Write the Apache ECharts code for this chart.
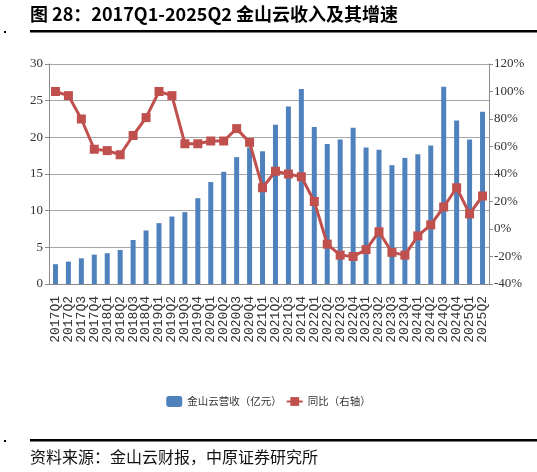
<!DOCTYPE html>
<html>
<head>
<meta charset="utf-8">
<title>金山云收入及其增速</title>
<script src="https://cdn.jsdelivr.net/npm/echarts@6/dist/echarts.min.js"></script>
<style>
  html, body { margin: 0; padding: 0; background: #fff; }
  #container { width: 537px; height: 472px; }
</style>
</head>
<body>
<div id="container"></div>
<script>
// 季度
const quarters = [
  '2017Q1', '2017Q2', '2017Q3', '2017Q4',
  '2018Q1', '2018Q2', '2018Q3', '2018Q4',
  '2019Q1', '2019Q2', '2019Q3', '2019Q4',
  '2020Q1', '2020Q2', '2020Q3', '2020Q4',
  '2021Q1', '2021Q2', '2021Q3', '2021Q4',
  '2022Q1', '2022Q2', '2022Q3', '2022Q4',
  '2023Q1', '2023Q2', '2023Q3', '2023Q4',
  '2024Q1', '2024Q2', '2024Q3', '2024Q4',
  '2025Q1', '2025Q2'
]
// 金山云营收（亿元）
const revenue = [
  2.7, 3.05, 3.5, 4.0,
  4.2, 4.65, 6.0, 7.3,
  8.3, 9.2, 9.8, 11.7,
  13.9, 15.3, 17.3, 18.6,
  18.1, 21.7, 24.2, 26.6,
  21.4, 19.1, 19.7, 21.3,
  18.6, 18.3, 16.2, 17.2,
  17.7, 18.9, 26.9, 22.3,
  19.7, 23.5
]
// 同比（%）
const yoy = [
  100, 97, 80, 58,
  57, 54, 68, 81,
  100, 97, 62, 62,
  64, 64, 73, 63,
  30, 42, 40, 38,
  20, -11, -19, -20,
  -15, -2, -17, -19,
  -5, 3, 16, 30,
  11, 24
]
// 刻度
const leftTicks = { min: 0, max: 30, interval: 5 }
const rightTicks = { min: -40, max: 120, interval: 20 }

const titleText = '图 28：2017Q1-2025Q2 金山云收入及其增速'
const sourceText = '资料来源：金山云财报，中原证券研究所'

const tickFont = { fontFamily: 'Liberation Serif', fontSize: 13, color: '#333' }

let myChart = echarts.init(document.getElementById('container'))

let option = {
  animation: false,
  backgroundColor: '#fff',
  graphic: [
    {
      type: 'text',
      left: 30,
      top: 5,
      style: {
        text: titleText,
        fontFamily: 'Noto Sans CJK SC',
        fontSize: 18,
        fontWeight: 'bold',
        fill: '#000'
      }
    },
    { type: 'rect', shape: { x: 30, y: 30, width: 507, height: 2.5 }, style: { fill: '#000' } },
    { type: 'rect', shape: { x: 4, y: 31, width: 2, height: 2 }, style: { fill: '#000' } },
    { type: 'rect', shape: { x: 30, y: 439, width: 507, height: 2.5 }, style: { fill: '#000' } },
    { type: 'rect', shape: { x: 4, y: 440, width: 2, height: 2 }, style: { fill: '#000' } },
    {
      type: 'text',
      left: 30,
      top: 449,
      style: {
        text: sourceText,
        fontFamily: 'Noto Sans CJK SC',
        fontSize: 16,
        fill: '#111'
      }
    }
  ],
  legend: {
    data: ['金山云营收（亿元）', '同比（右轴）'],
    left: 'center',
    top: 391,
    itemGap: 4,
    itemWidth: 16,
    itemHeight: 11,
    textStyle: { fontFamily: 'Noto Sans CJK SC', fontSize: 10.5, color: '#333' }
  },
  grid: {
    left: 49,
    right: 48,
    top: 64,
    bottom: 188
  },
  xAxis: {
    type: 'category',
    data: quarters,
    axisLine: { lineStyle: { color: '#8c8c8c' } },
    axisTick: { alignWithLabel: false, length: 5, lineStyle: { color: '#8c8c8c' } },
    axisLabel: {
      interval: 0,
      rotate: 90,
      margin: 12,
      fontFamily: 'Liberation Mono',
      fontSize: 13,
      color: '#333'
    }
  },
  yAxis: [
    {
      type: 'value',
      min: leftTicks.min,
      max: leftTicks.max,
      interval: leftTicks.interval,
      axisLine: { show: true, lineStyle: { color: '#8c8c8c' } },
      axisTick: { show: true, length: 4, lineStyle: { color: '#8c8c8c' } },
      axisLabel: Object.assign({ margin: 6 }, tickFont),
      splitLine: { lineStyle: { color: '#a6a6a6' } }
    },
    {
      type: 'value',
      min: rightTicks.min,
      max: rightTicks.max,
      interval: rightTicks.interval,
      axisLine: { show: true, lineStyle: { color: '#8c8c8c' } },
      axisTick: { show: true, length: 4, lineStyle: { color: '#8c8c8c' } },
      axisLabel: Object.assign({ margin: 5, formatter: '{value}%' }, tickFont),
      splitLine: { show: false }
    }
  ],
  series: [
    {
      name: '金山云营收（亿元）',
      type: 'bar',
      yAxisIndex: 0,
      barWidth: 5,
      itemStyle: { color: '#4f81bd' },
      data: revenue
    },
    {
      name: '同比（右轴）',
      type: 'line',
      yAxisIndex: 1,
      symbol: 'rect',
      symbolSize: 9,
      lineStyle: { color: '#c0504d', width: 3 },
      itemStyle: { color: '#c0504d' },
      data: yoy
    }
  ]
}

myChart.setOption(option)
</script>
</body>
</html>
